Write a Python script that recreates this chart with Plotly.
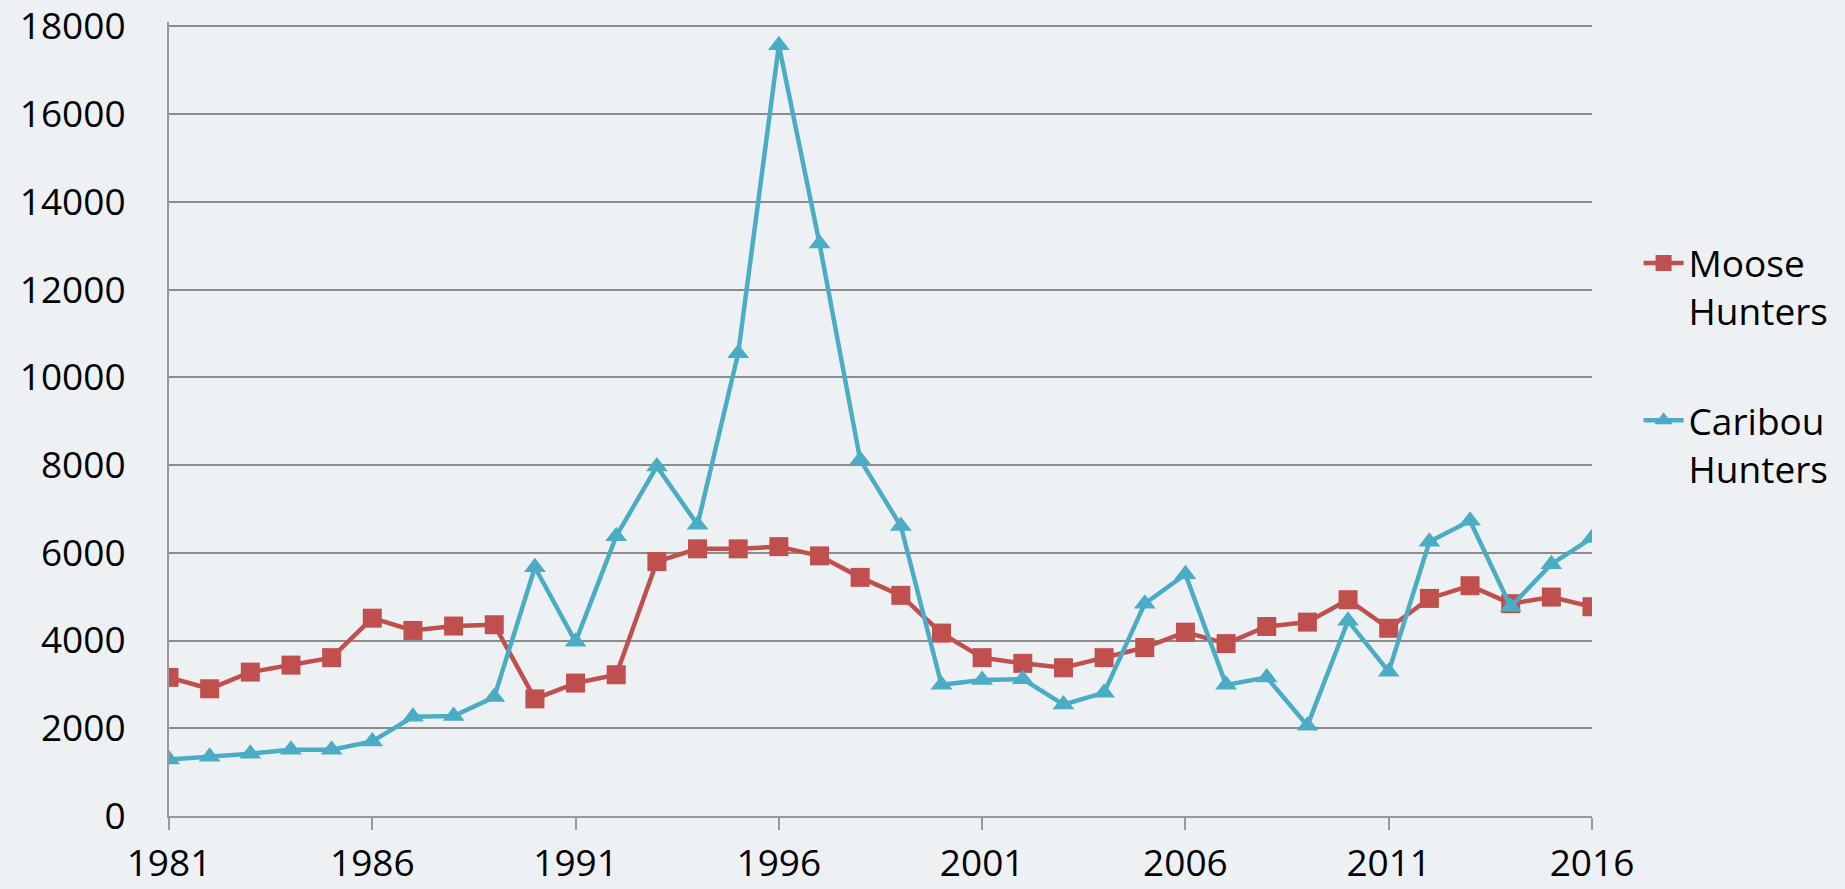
import plotly.graph_objects as go

years = list(range(1981, 2017))

moose_hunters = [
    3160, 2900, 3280, 3440, 3610, 4510, 4230, 4330, 4360, 2670,
    3030, 3220, 5800, 6090, 6090, 6140, 5930, 5440, 5030, 4170,
    3610, 3480, 3380, 3610, 3840, 4190, 3930, 4320, 4420, 4930,
    4280, 4960, 5250, 4840, 4990, 4770,
]

caribou_hunters = [
    1290, 1350, 1420, 1510, 1510, 1700, 2260, 2280, 2710, 5670,
    3970, 6380, 7970, 6640, 10550, 17570, 13050, 8120, 6610, 2990,
    3100, 3120, 2540, 2810, 4840, 5510, 2990, 3160, 2060, 4450,
    3290, 6250, 6730, 4770, 5740, 6340,
]

x_ticks = [1981, 1986, 1991, 1996, 2001, 2006, 2011, 2016]
y_ticks = list(range(0, 18001, 2000))
y_labels = [str(v) for v in y_ticks]

RED = "#C0504D"
BLUE = "#4BACC6"
GRID = "#8c8c8c"
BG = "#eef1f4"

fig = go.Figure()
fig.add_trace(go.Scatter(
    x=years, y=moose_hunters, name="Moose<br>Hunters",
    mode="lines+markers", legendgroup="moose",
    line=dict(color=RED, width=4.5),
    marker=dict(symbol="square", size=19, color=RED),
))
fig.add_trace(go.Scatter(
    x=years, y=caribou_hunters, name="Caribou<br>Hunters",
    mode="lines+markers", legendgroup="caribou",
    line=dict(color=BLUE, width=4.5),
    marker=dict(symbol="triangle-up", size=19, color=BLUE),
))

fig.update_layout(
    width=1845, height=889,
    margin=dict(l=169, r=252, t=22, b=73),
    paper_bgcolor=BG,
    plot_bgcolor="rgba(0,0,0,0)",
    font=dict(family="Open Sans", size=37, color="#000000"),
    showlegend=True,
    legend=dict(
        x=1.032, y=0.735, xanchor="left", yanchor="top",
        valign="top", traceorder="grouped", tracegroupgap=58,
        bgcolor="rgba(0,0,0,0)", itemwidth=40,
        font=dict(size=37),
    ),
)
fig.update_xaxes(
    range=[1981, 2016], tickvals=x_ticks, automargin=False,
    showgrid=False, zeroline=False,
    showline=True, linecolor="#9a9a9a", linewidth=2,
    ticks="outside", ticklen=12, tickwidth=2, tickcolor="#9a9a9a",
    tickfont=dict(size=37), ticklabelstandoff=2, ticklabeloverflow="allow",
)
fig.update_yaxes(
    range=[0, 18100], tickvals=y_ticks, ticktext=y_labels, automargin=False,
    showgrid=True, gridcolor=GRID, gridwidth=1.5,
    zeroline=False, showline=True, linecolor="#9a9a9a", linewidth=2,
    ticks="", tickfont=dict(size=37), ticklabelstandoff=34,
    ticklabeloverflow="allow",
)

# drop the default 8px page margin so the figure fills the window
page_fix = (
    "document.body.style.margin='0';"
    "document.body.style.background='" + BG + "';"
)
fig.write_html("out.html", post_script=page_fix,
               config={"displayModeBar": False})
